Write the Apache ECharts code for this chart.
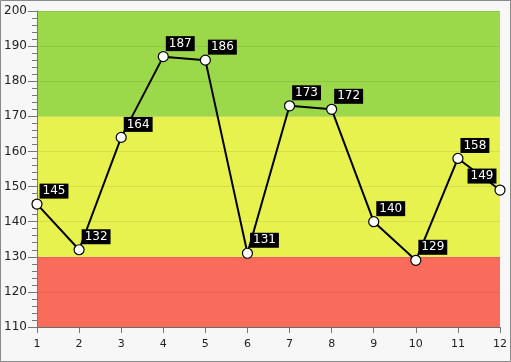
<!DOCTYPE html>
<html><head><meta charset="utf-8">
<script src="https://cdn.jsdelivr.net/npm/echarts@6/dist/echarts.min.js"></script>
<style>html,body{margin:0;padding:0;background:#f7f7f7}#c{width:511px;height:362px}</style>
</head><body><div id="c"></div>
<script>
const xValues = [1,2,3,4,5,6,7,8,9,10,11,12];
const yValues = [145,132,164,187,186,131,173,172,140,129,158,149];
const bands = [
  {from:110, to:130, color:'#f96c5b'},
  {from:130, to:170, color:'#e8f24e'},
  {from:170, to:200, color:'#9bd84a'}
];
const chart = echarts.init(document.getElementById('c'));
const data = xValues.map((x,i)=>{
  const d = {value:[x, yValues[i]]};
  if (i === xValues.length-1) d.label = {offset:[-18,-14]};
  return d;
});
chart.setOption({
  backgroundColor:'#f7f7f7',
  animation:false,
  graphic:[{type:'rect',shape:{x:0.5,y:0.5,width:510,height:361},style:{fill:'none',stroke:'#8a8a8a',lineWidth:1},z:100}],
  grid:{left:37,right:11,top:11,bottom:35},
  xAxis:{type:'value',min:1,max:12,interval:1,
    axisLine:{show:true,lineStyle:{color:'#777'}},
    axisTick:{show:true,length:6,lineStyle:{color:'#777'}},
    axisLabel:{color:'#222',fontFamily:'DejaVu Sans',fontSize:11,margin:12},
    splitLine:{show:false}},
  yAxis:{type:'value',min:110,max:200,interval:10,
    axisLine:{show:true,lineStyle:{color:'#777'}},
    axisTick:{show:true,length:9,lineStyle:{color:'#777'}},
    minorTick:{show:true,splitNumber:5,length:5,lineStyle:{color:'#777'}},
    axisLabel:{color:'#222',fontFamily:'DejaVu Sans',fontSize:12,margin:10},
    splitLine:{show:true,lineStyle:{color:'rgba(0,0,0,0.08)',width:1}},
    z:3},
  series:[{
    type:'line',data:data,z:5,
    lineStyle:{color:'#000',width:2},
    symbol:'circle',symbolSize:10,
    itemStyle:{color:'#fff',borderColor:'#000',borderWidth:1.2},
    label:{show:true,position:'inside',offset:[17,-13],color:'#fff',backgroundColor:'#000',
      fontFamily:'DejaVu Sans',fontSize:12,padding:[2,3,1,3],formatter:p=>p.value[1]},
    markArea:{silent:true,z:1,data:bands.map(b=>[{yAxis:b.from,itemStyle:{color:b.color}},{yAxis:b.to}])}
  }]
});
</script></body></html>
